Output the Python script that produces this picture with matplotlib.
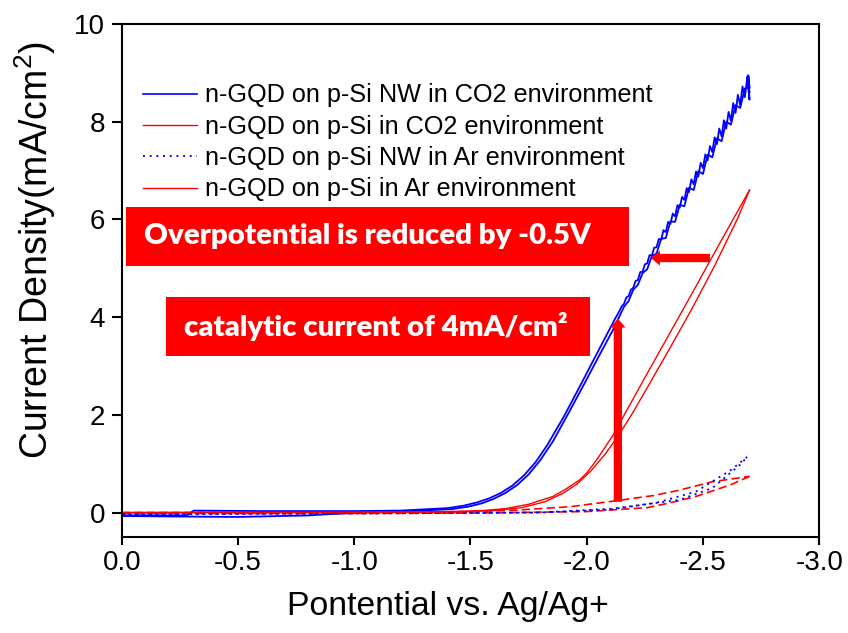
import matplotlib

matplotlib.use("Agg")
import matplotlib.pyplot as plt
from matplotlib.lines import Line2D
from matplotlib.patches import Rectangle
from matplotlib.ticker import FormatStrFormatter

plt.rcParams["font.family"] = ["Liberation Sans", "DejaVu Sans"]
plt.rcParams["mathtext.default"] = "regular"
plt.rcParams["axes.unicode_minus"] = False

# n-GQD on p-Si NW, CO2 (cathodic sweep, then return sweep)
nw_co2_fwd_v = [0.00, -0.28, -0.31, -0.60, -1.00, -1.20, -1.40, -1.47, -1.53, -1.58, -1.63, -1.68,
                -1.73, -1.78, -1.83, -1.90, -1.97, -2.04, -2.12,
                -2.14, -2.15, -2.16, -2.17, -2.18, -2.19, -2.20, -2.21, -2.22, -2.23, -2.24, -2.25,
                -2.26, -2.27, -2.28, -2.29, -2.30, -2.31, -2.32, -2.33, -2.34, -2.35, -2.36, -2.37,
                -2.38, -2.39, -2.40, -2.41, -2.42, -2.43, -2.44, -2.45, -2.46, -2.47, -2.48, -2.49,
                -2.50, -2.51, -2.52, -2.53, -2.54, -2.55, -2.56, -2.57, -2.58, -2.59, -2.60, -2.61,
                -2.62, -2.63, -2.64, -2.65, -2.66, -2.67, -2.68, -2.69, -2.70,
                -2.69, -2.70, -2.695, -2.70]
nw_co2_fwd_j = [-0.06, -0.06, 0.04, 0.03, 0.03, 0.04, 0.09, 0.14, 0.21, 0.29, 0.40, 0.55,
                0.76, 1.03, 1.38, 1.95, 2.58, 3.22, 3.95,
                4.12, 4.22, 4.27, 4.40, 4.43, 4.56, 4.60, 4.74, 4.76, 4.92, 4.93, 5.08,
                5.10, 5.27, 5.26, 5.42, 5.43, 5.60, 5.58, 5.78, 5.74, 5.95, 5.91, 6.12,
                6.06, 6.29, 6.24, 6.46, 6.40, 6.64, 6.56, 6.82, 6.72, 6.98, 6.88, 7.16,
                7.05, 7.33, 7.21, 7.50, 7.38, 7.68, 7.54, 7.86, 7.70, 8.03, 7.86, 8.20,
                8.02, 8.38, 8.18, 8.55, 8.34, 8.72, 8.50, 8.88, 8.60,
                8.92, 8.45, 8.95, 8.70]
nw_co2_rev_v = [-2.70, -2.68, -2.66, -2.64, -2.62, -2.60, -2.58, -2.56, -2.54, -2.52, -2.50, -2.48,
                -2.46, -2.44, -2.42, -2.40, -2.38, -2.36, -2.34, -2.32, -2.30, -2.28, -2.26, -2.24,
                -2.22, -2.20, -2.18, -2.16, -2.14, -2.12, -2.06, -1.99, -1.92, -1.855, -1.80, -1.75,
                -1.70, -1.65, -1.60, -1.55, -1.49, -1.42, -1.20, -1.00, -0.80, -0.50, -0.20, 0.00]
nw_co2_rev_j = [8.70, 8.68, 8.28, 8.34, 7.94, 8.00, 7.60, 7.66, 7.27, 7.33, 6.93, 6.99,
                6.60, 6.65, 6.27, 6.30, 5.95, 5.96, 5.62, 5.60, 5.30, 5.25, 4.98, 4.90,
                4.66, 4.56, 4.33, 4.21, 4.01, 3.80, 3.27, 2.64, 2.02, 1.46, 1.07, 0.78,
                0.56, 0.40, 0.28, 0.19, 0.12, 0.07, 0.02, 0.00, -0.06, -0.09, -0.08, -0.07]

# n-GQD on p-Si, CO2
si_co2_fwd_v = [0.00, -1.00, -1.40, -1.55, -1.65, -1.75, -1.855, -1.91, -1.97, -2.00, -2.04, -2.114,
                -2.165, -2.25, -2.35, -2.45, -2.53, -2.60, -2.70]
si_co2_fwd_j = [0.00, 0.01, 0.02, 0.04, 0.08, 0.17, 0.33, 0.48, 0.67, 0.81, 1.06, 1.59,
                2.03, 2.76, 3.61, 4.46, 5.15, 5.75, 6.60]
si_co2_rev_v = [-2.70, -2.65, -2.55, -2.45, -2.35, -2.25, -2.19, -2.134, -2.08, -2.02, -1.96, -1.90,
                -1.82, -1.72, -1.60, -1.45, -1.00, 0.00]
si_co2_rev_j = [6.60, 6.03, 5.05, 4.15, 3.30, 2.47, 1.98, 1.56, 1.20, 0.86, 0.59, 0.40,
                0.22, 0.10, 0.04, 0.01, 0.00, 0.00]

# n-GQD on p-Si NW, Ar
nw_ar_fwd_v = [0.00, -1.00, -1.80, -2.11, -2.40, -2.54, -2.66, -2.69]
nw_ar_fwd_j = [-0.03, -0.02, 0.00, 0.08, 0.26, 0.50, 0.98, 1.14]
nw_ar_rev_v = [-2.69, -2.62, -2.47, -2.30, -2.10, -1.80, 0.00]
nw_ar_rev_j = [1.14, 0.87, 0.43, 0.20, 0.06, 0.00, -0.04]

# n-GQD on p-Si, Ar
si_ar_fwd_v = [0.00, -1.00, -1.50, -1.70, -1.93, -2.14, -2.29, -2.40, -2.54, -2.70]
si_ar_fwd_j = [0.00, 0.00, 0.02, 0.05, 0.12, 0.25, 0.35, 0.46, 0.63, 0.74]
si_ar_rev_v = [-2.70, -2.62, -2.47, -2.36, -2.26, -2.00, -1.50, -1.00, 0.00]
si_ar_rev_j = [0.74, 0.57, 0.33, 0.20, 0.10, 0.02, -0.01, -0.02, -0.02]

legend_labels = [
    "n-GQD on p-Si NW in CO2 environment",
    "n-GQD on p-Si in CO2 environment",
    "n-GQD on p-Si NW in Ar environment",
    "n-GQD on p-Si in Ar environment",
]

# arrows: (tail), (head)
overpotential_arrow = [(-2.530, 5.21), (-2.276, 5.21)]
catalytic_arrow = [(-2.134, 0.22), (-2.134, 3.97)]

BLUE = "#0000ff"
RED = "#ff0000"
dashed = (0, (5, 2.5))
dotted = (0, (1.1, 2.6))

fig = plt.figure(figsize=(8.48, 6.33), dpi=100)
ax = fig.add_axes([0.1435, 0.1517, 0.8226, 0.8104])

ax.plot(si_ar_fwd_v, si_ar_fwd_j, color=RED, lw=1.2, ls=dashed)
ax.plot(si_ar_rev_v, si_ar_rev_j, color=RED, lw=1.2, ls=dashed)
ax.plot(nw_ar_fwd_v, nw_ar_fwd_j, color=BLUE, lw=1.3, ls=dotted)
ax.plot(nw_ar_rev_v, nw_ar_rev_j, color=BLUE, lw=1.3, ls=dotted)
ax.plot(nw_co2_fwd_v, nw_co2_fwd_j, color=BLUE, lw=1.3)
ax.plot(nw_co2_rev_v, nw_co2_rev_j, color=BLUE, lw=1.3)
ax.plot(si_co2_fwd_v, si_co2_fwd_j, color=RED, lw=1.0)
ax.plot(si_co2_rev_v, si_co2_rev_j, color=RED, lw=1.0)

ax.set_xlim(0, -3)
ax.set_ylim(-0.5, 10)
ax.set_xticks([0, -0.5, -1.0, -1.5, -2.0, -2.5, -3.0])
ax.set_yticks([0, 2, 4, 6, 8, 10])
ax.xaxis.set_major_formatter(FormatStrFormatter("%.1f"))
ax.tick_params(axis="x", direction="out", length=6, width=1.5, pad=3.5, labelsize=20)
ax.tick_params(axis="y", direction="out", length=7, width=1.5, pad=4.8, labelsize=20)
for spine in ax.spines.values():
    spine.set_linewidth(1.5)

ax.set_xlabel("Pontential vs. Ag/Ag+", fontsize=24.3)
ax.set_ylabel("Current Density(mA/cm$^2$)", fontsize=27)
ax.xaxis.set_label_coords(0.468, -0.105)
ax.yaxis.set_label_coords(-0.092, 0.56)

handles = [
    Line2D([], [], color=BLUE, lw=1.2),
    Line2D([], [], color=RED, lw=1.0),
    Line2D([], [], color=BLUE, lw=1.3, ls=dotted),
    Line2D([], [], color=RED, lw=1.0),
]
ax.legend(handles, legend_labels, loc="upper left", bbox_to_anchor=(0.0305, 0.884),
          frameon=False, fontsize=18.2, handlelength=2.15, handletextpad=0.32,
          labelspacing=0.29, borderpad=0, borderaxespad=0)

# red callout boxes
ax.add_patch(Rectangle((0.0062, 0.5289), 0.721, 0.115, transform=ax.transAxes,
                       facecolor=RED, edgecolor="none", zorder=4))
ax.text(0.353, 0.5863, "Overpotential is reduced by -0.5V", transform=ax.transAxes,
        ha="center", va="center", color="white", fontsize=21.2, fontweight="heavy",
        family=["Lato", "DejaVu Sans"], zorder=5)
ax.add_patch(Rectangle((0.0635, 0.3534), 0.6078, 0.1138, transform=ax.transAxes,
                       facecolor=RED, edgecolor="none", zorder=4))
ax.text(0.3646, 0.4103, "catalytic current of 4mA/cm²", transform=ax.transAxes,
        ha="center", va="center", color="white", fontsize=21.2, fontweight="heavy",
        family=["Lato", "DejaVu Sans"], zorder=5)

arrow_style = "simple,head_width=1.1,head_length=0.65,tail_width=0.6"
for tail, head in [overpotential_arrow, catalytic_arrow]:
    ax.annotate("", xy=head, xytext=tail,
                arrowprops=dict(arrowstyle=arrow_style, mutation_scale=10, fc=RED, ec="none",
                                shrinkA=0, shrinkB=0), zorder=6)

fig.savefig("out.png", dpi=100)
